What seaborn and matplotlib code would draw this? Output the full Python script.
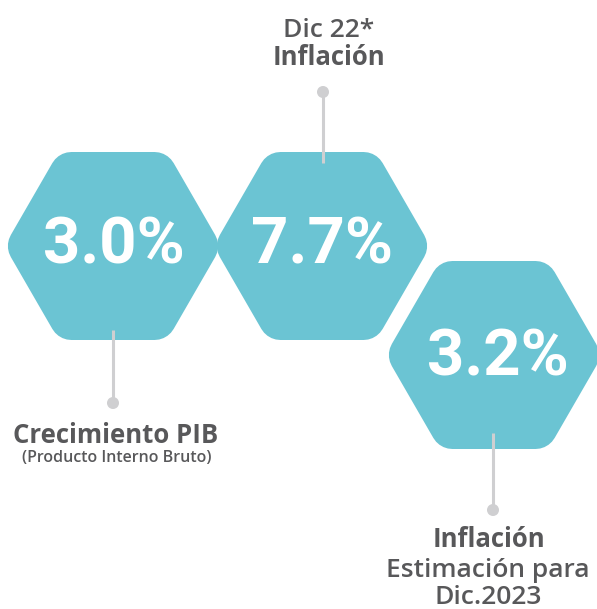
import matplotlib
matplotlib.use("Agg")
import matplotlib.pyplot as plt
from matplotlib.patches import RegularPolygon
import seaborn as sns
import pandas as pd

# values shown in the hexagons
values = ["3.0%", "7.7%", "3.2%"]
# label lines for each hexagon (bold title, regular lines)
titles = ["Crecimiento PIB", "Inflación", "Inflación"]
subtitles = [["(Producto Interno Bruto)"], [], ["Estimación para", "Dic.2023"]]
top_note = "Dic 22*"

# layout (pixel coords, y down)
W, H = 597, 609
hex_cx = [113, 322, 494]
hex_cy = [246, 246, 355]
apothem = 94
corner = 22
teal = "#6bc4d3"
grey_line = "#cfcfd1"
txt = "#58585a"

sns.set_theme(style="white")
plt.rcParams["font.family"] = ["Open Sans", "DejaVu Sans"]

fig = plt.figure(figsize=(W / 100, H / 100), dpi=100)
ax = fig.add_axes([0, 0, 1, 1])
ax.set_xlim(0, W)
ax.set_ylim(H, 0)
ax.axis("off")

# rounded hexagons: smaller polygon stroked with round joins
inner_r = (apothem - corner) * 2 / 3 ** 0.5
lw_pt = 2 * corner * 72 / 100
for cx, cy in zip(hex_cx, hex_cy):
    hexagon = RegularPolygon((cx, cy), 6, radius=inner_r, orientation=0.5236,
                             facecolor=teal, edgecolor=teal, linewidth=lw_pt,
                             joinstyle="round", zorder=1)
    ax.add_patch(hexagon)

# connector lines and dots
line_x = [113, 323, 493]
line_y0 = [330, 163, 433]
line_y1 = [403, 92, 510]
for x, a, b in zip(line_x, line_y0, line_y1):
    ax.plot([x, x], [a, b], color=grey_line, lw=2.2, zorder=2, solid_capstyle="butt")
dots = pd.DataFrame({"x": line_x, "y": line_y1})
sns.scatterplot(data=dots, x="x", y="y", ax=ax, s=75, color=grey_line,
                edgecolor="none", zorder=3, legend=False)

# big values
val_x = [114, 322, 498]
val_base = [263, 263, 375]
for v, x, y in zip(values, val_x, val_base):
    ax.text(x, y, v, color="white", fontsize=47, fontweight="bold",
            family=["Roboto", "DejaVu Sans"],
            ha="center", va="baseline", zorder=4)

# labels
reg = "semibold"
ax.text(329, 37, top_note, color=txt, fontsize=19, fontweight=reg,
        ha="center", va="baseline")
ax.text(329, 65, titles[1], color=txt, fontsize=18.5, fontweight="bold",
        ha="center", va="baseline")

ax.text(116, 443, titles[0], color=txt, fontsize=18.5, fontweight="bold",
        ha="center", va="baseline")
ax.text(117, 462, subtitles[0][0], color=txt, fontsize=11.5, fontweight=reg,
        ha="center", va="baseline")

ax.text(489, 547, titles[2], color=txt, fontsize=18.5, fontweight="bold",
        ha="center", va="baseline")
for s, y in zip(subtitles[2], [577, 604]):
    ax.text(488, y, s, color=txt, fontsize=19, fontweight=reg,
            ha="center", va="baseline")

fig.savefig("out.png", dpi=100)
